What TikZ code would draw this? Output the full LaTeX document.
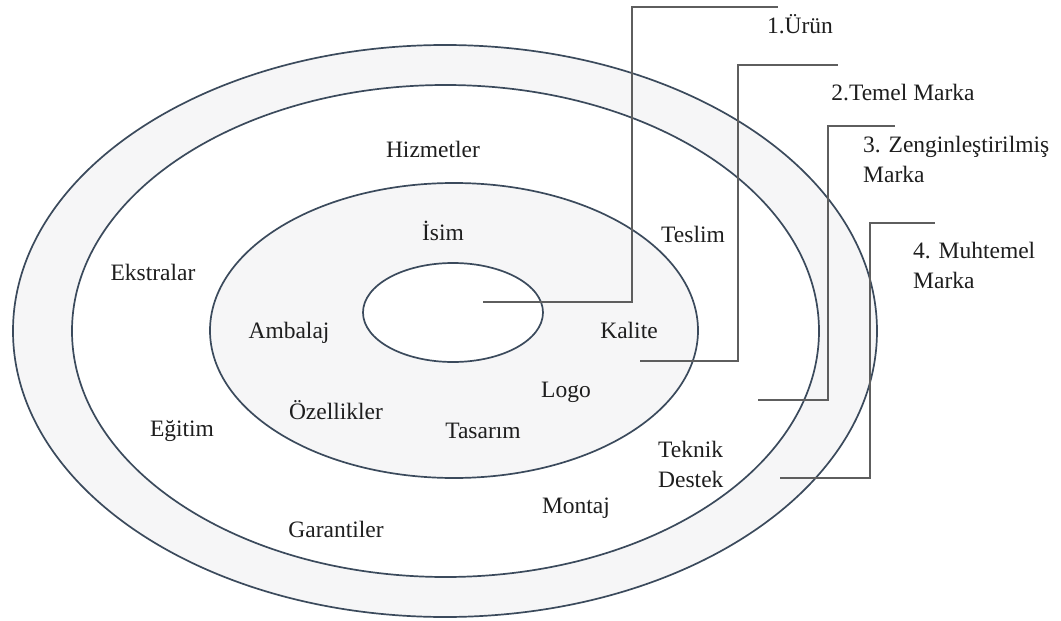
\documentclass[tikz,border=0pt]{standalone}
\usepackage{fontspec}
\setmainfont{Liberation Serif}
\usetikzlibrary{shapes.geometric}
\definecolor{ringfill}{HTML}{F6F6F7}
\definecolor{ringline}{HTML}{3B4A5C}
\definecolor{connline}{HTML}{5E5E5E}
\definecolor{txt}{HTML}{1E1E1E}
\begin{document}
\begin{tikzpicture}[x=1pt,y=-1pt,
  ring/.style={ellipse,draw=ringline,line width=1.7pt,inner sep=0pt,outer sep=0pt},
  conn/.style={draw=connline,line width=2.4pt,line join=miter},
  lbl/.style={inner sep=0pt,text=txt,font=\rmfamily\fontsize{23.5}{30}\selectfont,anchor=base},
  mlbl/.style={lbl,anchor=base west,align=left}]
\useasboundingbox[fill=white] (0,0) rectangle (1061,621);
% rings
\node[ring,fill=ringfill,minimum width=864pt,minimum height=572pt] (outer) at (445,331) {};
\node[ring,fill=white,minimum width=747pt,minimum height=492pt] (second) at (445.5,331) {};
\node[ring,fill=ringfill,minimum width=488pt,minimum height=295pt] (inner) at (454,330.5) {};
\node[ring,fill=white,minimum width=180pt,minimum height=99pt] (core) at (453,312.5) {};
% labels inside
\node[lbl] (hiz) at (433,157) {Hizmetler};
\node[lbl] (eks) at (153,280) {Ekstralar};
\node[lbl] (egi) at (182,436) {Eğitim};
\node[lbl] (gar) at (336,537) {Garantiler};
\node[lbl] (oze) at (336,419) {Özellikler};
\node[lbl] (amb) at (289,338) {Ambalaj};
\node[lbl] (isi) at (443,240) {İsim};
\node[lbl] (tes) at (693,242) {Teslim};
\node[lbl] (kal) at (629,338) {Kalite};
\node[lbl] (log) at (566,397) {Logo};
\node[lbl] (tas) at (483,438) {Tasarım};
\node[lbl] (mon) at (576,513) {Montaj};
\node[mlbl] (tek) at (658,487) {Teknik\\Destek};
% legend labels
\node[lbl] (l1) at (800,33) {1.Ürün};
\node[lbl] (l2) at (903,100) {2.Temel Marka};
\node[mlbl] (l3) at (863,182) {3. Zenginleştirilmiş\\Marka};
\node[mlbl] (l4) at (913,288) {4. Muhtemel\\Marka};
% connector coordinates
\coordinate (c1s) at (483,302);
\coordinate (c1e) at (778,7);
\coordinate (c2s) at (640,361);
\coordinate (c2e) at (838,65);
\coordinate (c3s) at (758,400);
\coordinate (c3e) at (895,126);
\coordinate (c4s) at (780,478);
\coordinate (c4e) at (935,223);
\draw[conn] (c1s) -- (632,302) -- (632,7) -- (c1e);
\draw[conn] (c2s) -- (738,361) -- (738,65) -- (c2e);
\draw[conn] (c3s) -- (828,400) -- (828,126) -- (c3e);
\draw[conn] (c4s) -- (870,478) -- (870,223) -- (c4e);
\end{tikzpicture}
\end{document}
